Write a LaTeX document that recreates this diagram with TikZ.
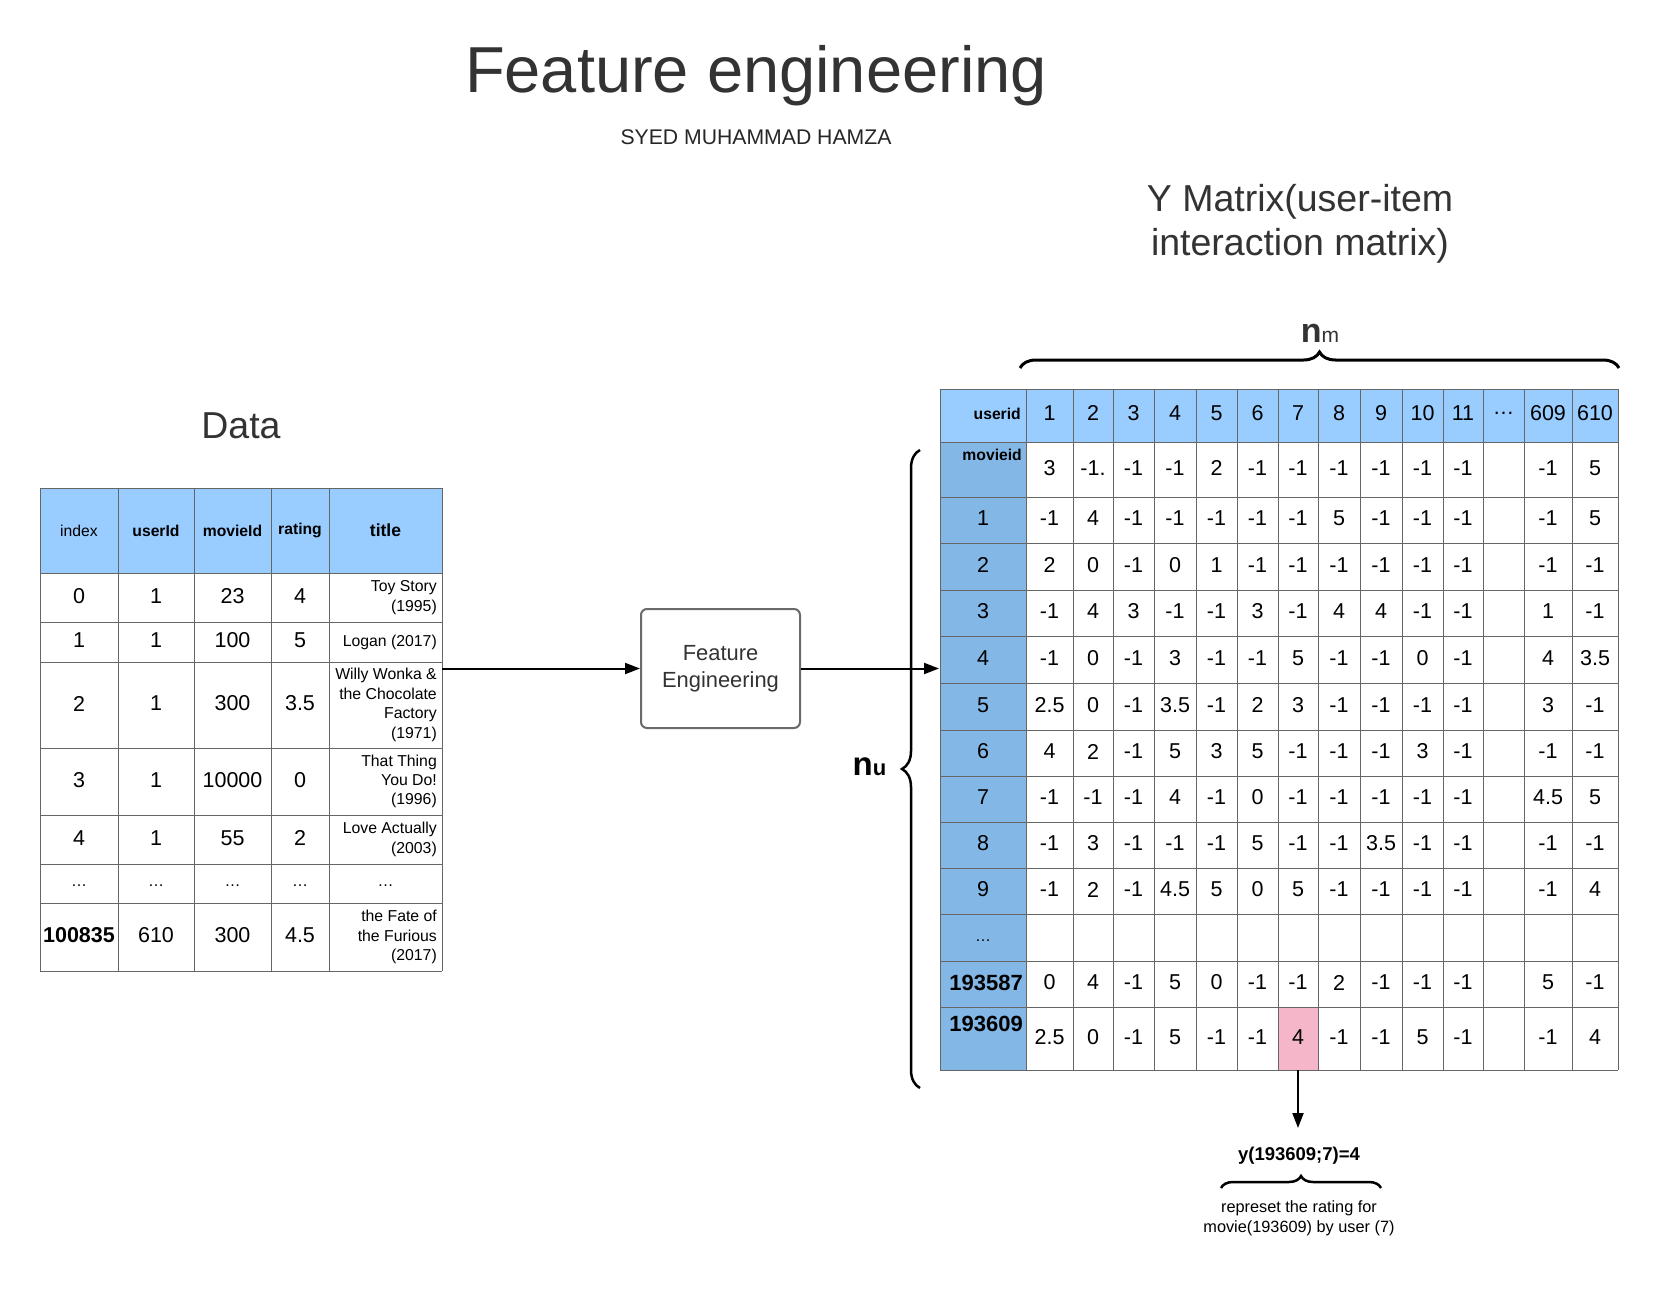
\documentclass[tikz,border=0pt]{standalone}
\usepackage{fontspec}
\setmainfont{Liberation Sans}
\usepackage{tikz}
\usetikzlibrary{arrows.meta,decorations.pathreplacing,calc,positioning}

\newcommand{\fsz}[2]{\fontsize{#1}{#2}\selectfont}

\definecolor{hdblue}{HTML}{99CCFF}
\definecolor{colblue}{HTML}{83B7E6}
\definecolor{cellpink}{HTML}{F4B6C8}
\definecolor{gridgray}{HTML}{666666}
\definecolor{boxgray}{HTML}{6A6A6A}
\definecolor{txtgray}{HTML}{333333}

\tikzset{
  grid/.style={draw=gridgray, line width=1pt},
  num/.style={inner sep=0pt, yshift=1.5pt, font=\fsz{21.5}{26}},
  hd/.style={inner sep=0pt, font=\bfseries\fsz{15.7}{19}},
  ttl/.style={anchor=east, align=right, inner sep=0pt, font=\fsz{15.8}{19.4}},
  febox/.style={draw=boxgray, fill=white, line width=2pt, rounded corners=6pt,
    minimum width=159pt, minimum height=119pt, align=center, text=txtgray,
    font=\fsz{21.9}{27}},
  flow/.style={-{Triangle[length=15pt,width=11pt]}, line width=2pt},
  brc/.style={decorate, decoration={brace, amplitude=#1}, line width=2.5pt},
  brc/.default=16pt
}

\begin{document}
\begin{tikzpicture}[x=1pt, y=-1pt]
    \useasboundingbox[fill=white] (0,0) rectangle (1659,1289);

    % titles
    \node[text=txtgray, font=\fsz{65}{78}] (title) at (756,76) {Feature engineering};
    \node[text=black!85, font=\fsz{21.2}{25}] (author) at (756,137.5) {SYED MUHAMMAD HAMZA};
    \node[text=txtgray, align=center, font=\fsz{37.5}{44}] (ytitle) at (1300,224) {Y Matrix(user-item\\interaction matrix)};
    \node[text=txtgray, font=\fsz{37.5}{44}] (datatitle) at (241,426) {Data};

    % data table
    \fill[hdblue] (40,488) rectangle (442,573);
    \foreach \gx in {40,118,194,271,329,442}
      \draw[grid] (\gx,488) -- (\gx,971);
    \foreach \gy in {488,573,622,662,748,815,864,903,971}
      \draw[grid] (40,\gy) -- (442,\gy);

    \node[hd, font=\fsz{15.7}{19}] (h-index) at (79,530.5) {index};
    \node[hd] (h-user) at (156,530.5) {userId};
    \node[hd] (h-movie) at (232.5,530.5) {movieId};
    \node[hd] (h-rating) at (300,530.5) {rating};
    \node[hd, font=\bfseries\fsz{17.5}{21}] (h-title) at (385.5,530.5) {title};

    \foreach \cy/\ix/\uid/\mvid/\rat/\ttxt [count=\rw] in {
        597.5/0/1/23/4/{Toy Story\\(1995)},
        642/1/1/100/5/{Logan (2017)},
        705/2/1/300/3.5/{Willy Wonka \&\\the Chocolate\\Factory\\(1971)},
        781.5/3/1/10000/0/{That Thing\\You Do!\\(1996)},
        839.5/4/1/55/2/{Love Actually\\(2003)},
        937/\textbf{100835}/610/300/4.5/{the Fate of\\the Furious\\(2017)}} {
      \node[num] (d-\rw-1) at (79,\cy) {\ix};
      \node[num] (d-\rw-2) at (156,\cy) {\uid};
      \node[num] (d-\rw-3) at (232.5,\cy) {\mvid};
      \node[num] (d-\rw-4) at (300,\cy) {\rat};
      \node[ttl] (d-\rw-5) at (437,\cy) {\ttxt};
    }
    \foreach \cx [count=\k] in {79,156,232.5,300,385.5}
      \node[num, font=\fsz{16}{19}] (dd-\k) at (\cx,887) {\dots};

    % feature engineering box
    \node[febox] (fe) at (720.5,668.5) {Feature\\Engineering};

    % Y matrix
    \def\mcols{{1049.5,1093,1133.5,1175,1216.5,1257.5,1298,1339,1381,1422.5,1463,1503.5,1548,1595}}
    \fill[hdblue] (940,389) rectangle (1618,442);
    \fill[colblue] (940,442) rectangle (1026,1070);
    \node[fill=cellpink, inner sep=0pt, minimum width=40pt, minimum height=63pt] (pink) at (1298,1038.5) {};
    \foreach \gx in {940,1026,1073,1113,1154,1196,1237,1278,1318,1360,1402,1443,1483,1524,1572,1618}
      \draw[grid] (\gx,389) -- (\gx,1070);
    \foreach \gy in {389,442,497,543,590,636,683,730,776,822,868,914,961,1007,1070}
      \draw[grid] (940,\gy) -- (1618,\gy);

    \node[hd, anchor=east] (u-head) at (1021,414) {userid};
    \foreach \h [count=\j] in {1,2,3,4,5,6,7,8,9,10,11,\ldots,609,610} {
      \pgfmathsetmacro{\cx}{\mcols[\j-1]}
      \node[num] (top-\j) at (\cx,414.5) {\h};
    }

    \node[hd, anchor=north east] (u-movie) at (1022,449) {movieid};
    \foreach \cy [count=\i] in {520,566.5,613,659.5,706.5,753,799,845,891}
      \node[num] (u-\i) at (983,\cy) {\i};
    \node[num, font=\fsz{16}{19}] (u-dots) at (983,942) {\dots};
    \node[num, font=\bfseries\fsz{22}{26}, anchor=east] (u-193587) at (1023,984) {193587};
    \node[num, font=\bfseries\fsz{22}{26}, anchor=north east] (u-193609) at (1023,1017) {193609};

    \foreach \cy/\vals [count=\i] in {
        469.5/{3,-1.,-1,-1,2,-1,-1,-1,-1,-1,-1,,-1,5},
        520/{-1,4,-1,-1,-1,-1,-1,5,-1,-1,-1,,-1,5},
        566.5/{2,0,-1,0,1,-1,-1,-1,-1,-1,-1,,-1,-1},
        613/{-1,4,3,-1,-1,3,-1,4,4,-1,-1,,1,-1},
        659.5/{-1,0,-1,3,-1,-1,5,-1,-1,0,-1,,4,3.5},
        706.5/{2.5,0,-1,3.5,-1,2,3,-1,-1,-1,-1,,3,-1},
        753/{4,2,-1,5,3,5,-1,-1,-1,3,-1,,-1,-1},
        799/{-1,-1,-1,4,-1,0,-1,-1,-1,-1,-1,,4.5,5},
        845/{-1,3,-1,-1,-1,5,-1,-1,3.5,-1,-1,,-1,-1},
        891/{-1,2,-1,4.5,5,0,5,-1,-1,-1,-1,,-1,4},
        984/{0,4,-1,5,0,-1,-1,2,-1,-1,-1,,5,-1},
        1038.5/{2.5,0,-1,5,-1,-1,4,-1,-1,5,-1,,-1,4}} {
      \foreach \v [count=\j] in \vals {
        \pgfmathsetmacro{\cx}{\mcols[\j-1]}
        \node[num] (v-\i-\j) at (\cx,\cy) {\v};
      }
    }

    % braces
    \draw[brc=16pt, line width=3pt] (1020,368) -- (1619,368);
    \node[text=txtgray] (nm) at (1320,333) {{\bfseries\fsz{34}{40}n}{\fsz{21}{25}m}};
    \draw[brc=18pt] (920,1088) -- (920,450);
    \node (nu) at (869.5,766.5) {{\bfseries\fsz{33}{40}n}{\bfseries\fsz{22}{26}u}};

    % connectors
    \coordinate (tabout) at (442,668.5);
    \coordinate (matin) at (939,668.5);
    \coordinate (ytip) at (1298,1128);
    \draw[flow] (tabout) -- (fe.west);
    \draw[flow] (fe.east) -- (matin);
    \draw[flow] (pink.south) -- (ytip);

    % annotation
    \node[font=\bfseries\fsz{18.5}{22}] (ylab) at (1299,1156) {y(193609;7)=4};
    \draw[brc=12pt] (1221,1188) -- (1381,1188);
    \node[align=center, font=\fsz{16.3}{20}] (ynote) at (1299,1218) {represet the rating for\\movie(193609) by user (7)};
  \end{tikzpicture}
\end{document}
